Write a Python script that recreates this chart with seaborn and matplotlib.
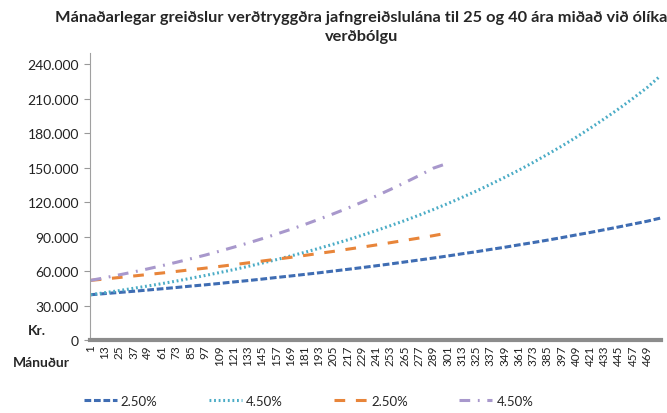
import matplotlib
matplotlib.use("Agg")
import matplotlib.pyplot as plt
import seaborn as sns
import pandas as pd

# months (x) and monthly payments (kr.), one point per year
months_40 = [1, 13, 25, 37, 49, 61, 73, 85, 97, 109, 121, 133, 145, 157, 169,
             181, 193, 205, 217, 229, 241, 253, 265, 277, 289, 301, 313, 325,
             337, 349, 361, 373, 385, 397, 409, 421, 433, 445, 457, 469, 480]
months_25 = [1, 13, 25, 37, 49, 61, 73, 85, 97, 109, 121, 133, 145, 157, 169,
             181, 193, 205, 217, 229, 241, 253, 265, 277, 289, 300]

pay_40_25 = [39500, 40500, 41500, 42500, 43600, 44700, 45800, 47000, 48100,
             49300, 50600, 51800, 53100, 54500, 55800, 57200, 58600, 60100,
             61600, 63100, 64700, 66300, 68000, 69700, 71400, 73200, 75100,
             76900, 78900, 80800, 82900, 84900, 87000, 89200, 91500, 93700,
             96100, 98500, 101000, 103500, 106200]
pay_40_45 = [39500, 41300, 43100, 45100, 47100, 49200, 51400, 53800, 56200,
             58700, 61300, 64100, 67000, 70000, 73200, 76400, 79900, 83500,
             87200, 91200, 95300, 99600, 104000, 108700, 113600, 118700,
             124100, 129600, 135500, 141600, 147900, 154600, 161600, 168800,
             176400, 184400, 192700, 201300, 210400, 219900, 230000]
pay_25_25 = [52000, 53200, 54500, 55800, 57100, 58400, 59800, 61200, 62600,
             64100, 65600, 67200, 68800, 70400, 72000, 73700, 75500, 77200,
             79100, 80900, 82800, 84800, 86800, 88800, 90900, 93000]
pay_25_45 = [52000, 54300, 56800, 59300, 62000, 64800, 67700, 70800, 73900,
             77300, 80800, 84400, 88200, 92200, 96300, 100600, 105200, 109900,
             114800, 120000, 125400, 131100, 137000, 143100, 149600, 153500]

labels = ["2.50%", "4.50%", "2.50%", "4.50%"]
colors = ["#3f6db3", "#4bacc6", "#e8853a", "#a898cc"]
styles = [(0, (2.2, 0.9)), (0, (0.6, 0.9)), (0, (3.5, 3.5)), (0, (3.5, 2.5, 0.6, 2.5))]

sns.set_style("white")
plt.rcParams["font.family"] = ["Lato", "DejaVu Sans"]

fig = plt.figure(figsize=(6.67, 4.14), dpi=100)
ax = fig.add_axes([0.135, 0.176, 0.856, 0.694])

series = [(months_40, pay_40_25), (months_40, pay_40_45),
          (months_25, pay_25_25), (months_25, pay_25_45)]
for (mx, py), lab, col, ls in zip(series, labels, colors, styles):
    df = pd.DataFrame({"Mánuður": mx, "Kr": py})
    sns.lineplot(data=df, x="Mánuður", y="Kr", ax=ax, color=col, lw=2.2,
                 linestyle=ls, label=lab)

ax.set_xlim(0.5, 480.5)
ax.set_ylim(0, 250000)
ax.set_xticks(range(1, 470, 12))
ax.set_xticklabels([str(m) for m in range(1, 470, 12)], rotation=90,
                   fontsize=8.5, color="#222222")
ax.set_yticks(range(0, 240001, 30000))
ax.set_yticklabels(["0" if v == 0 else f"{v // 1000}.000"
                    for v in range(0, 240001, 30000)], fontsize=10, color="#222222")
ax.tick_params(axis="x", length=0, pad=3)
ax.tick_params(axis="y", length=4, width=0.8, color="#999999", left=True, pad=4)
ax.set_xlabel("")
ax.set_ylabel("")

for s in ["top", "right"]:
    ax.spines[s].set_visible(False)
ax.spines["left"].set_color("#a0a0a0")
ax.spines["left"].set_linewidth(0.8)
ax.spines["bottom"].set_color("#8c8c8c")
ax.spines["bottom"].set_linewidth(3)

fig.text(0.542, 0.933, "Mánaðarlegar greiðslur verðtryggðra jafngreiðslulána til 25 og 40 ára miðað við ólíka\nverðbólgu",
         ha="center", va="center", fontsize=11.8, fontweight="bold", linespacing=1.45)
fig.text(0.055, 0.200, "Kr.", ha="center", va="center", fontsize=10, fontweight="bold")
fig.text(0.062, 0.123, "Mánuður", ha="center", va="center", fontsize=10, fontweight="bold")

h, l = ax.get_legend_handles_labels()
ax.get_legend().remove()
fig.legend(h, l, loc="center left", bbox_to_anchor=(0.108, 0.03), ncol=4, frameon=False,
           fontsize=9.5, handlelength=2.5, columnspacing=3.9, handletextpad=0.3)

fig.savefig("out.png", dpi=100)
